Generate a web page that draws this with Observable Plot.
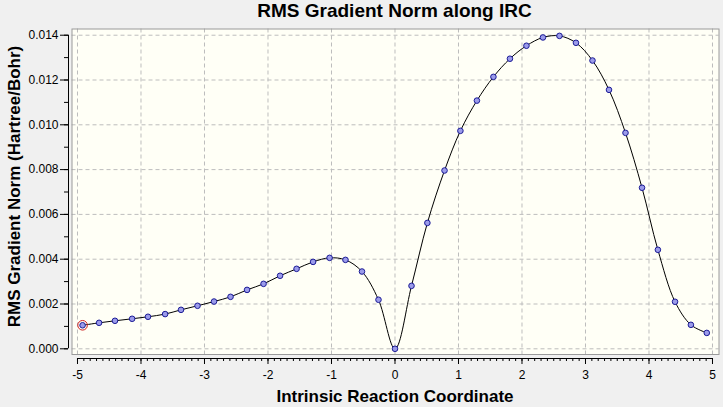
<!DOCTYPE html>
<html>
<head>
<meta charset="utf-8">
<script src="https://cdn.jsdelivr.net/npm/d3@7"></script>
<script src="https://cdn.jsdelivr.net/npm/@observablehq/plot@0.6"></script>
<style>
  html, body { margin: 0; padding: 0; background: #f0f0f0; }
  body { width: 723px; height: 407px; overflow: hidden; font-family: "Liberation Sans", Arial, sans-serif; }
  #title { height: 26px; line-height: 21px; margin-left: 66px; width: 657px; text-align: center;
           font-weight: bold; font-size: 19px; color: #000; white-space: nowrap; }
  svg { display: block; }
</style>
</head>
<body>
<div id="title">RMS Gradient Norm along IRC</div>
<div id="chart"></div>
<script>
// ---- data ----
const irc = [
  -4.92, -4.66, -4.41, -4.14, -3.89, -3.62, -3.37, -3.11, -2.85, -2.59,
  -2.33, -2.07, -1.81, -1.55, -1.29, -1.03, -0.78, -0.52, -0.26, 0.00,
   0.26,  0.51,  0.78,  1.03,  1.29,  1.55,  1.81,  2.07,  2.33,  2.59,
   2.85,  3.11,  3.37,  3.63,  3.89,  4.14,  4.41,  4.66,  4.91
];
const rmsGrad = [
  0.00105, 0.00116, 0.00125, 0.00134, 0.00143, 0.00155, 0.00174, 0.00192, 0.00211, 0.00232,
  0.00263, 0.00290, 0.00326, 0.00357, 0.00388, 0.00406, 0.00397, 0.00345, 0.00219, 0.00000,
  0.00281, 0.00562, 0.00796, 0.00973, 0.01108, 0.01214, 0.01295, 0.01353, 0.01390, 0.01397,
  0.01366, 0.01287, 0.01156, 0.00964, 0.00719, 0.00442, 0.00210, 0.00107, 0.00071
];
const xTicks = [-5, -4, -3, -2, -1, 0, 1, 2, 3, 4, 5];
const yTicks = [0.000, 0.002, 0.004, 0.006, 0.008, 0.010, 0.012, 0.014];
const xMinorTicks = d3.range(-50, 51).map(i => i / 10);
const yMinorTicks = d3.range(0, 15).map(i => i / 1000);
const highlighted = [0]; // index of the circled point
const titleY = "RMS Gradient Norm (Hartree/Bohr)";
const titleX = "Intrinsic Reaction Coordinate";

// scale extents (plot area includes space for the offset axes)
const xDomain = [-5.1417, 5.1024];
const yDomain = [-0.000433, 0.014277];

const data = irc.map((x, i) => ({x, y: rmsGrad[i]}));
const hi = highlighted.map(i => data[i]);

const grid = {stroke: "#bdbdbd", strokeDasharray: "4,3", strokeWidth: 1};

const chart = Plot.plot({
  width: 723,
  height: 381,
  marginTop: 2.5,
  marginBottom: 49,
  marginLeft: 68,
  marginRight: 4.5,
  style: {fontFamily: "'Liberation Sans', Arial, sans-serif", fontSize: "12px", background: "transparent", color: "#000"},
  x: {domain: xDomain},
  y: {domain: yDomain},
  marks: [
    Plot.frame({fill: "#fffff6", stroke: null, insetLeft: 3.5, insetBottom: 4}),
    Plot.ruleX(xTicks, {...grid, insetBottom: 4}),
    Plot.ruleY(yTicks, {...grid, insetLeft: 3.5}),
    Plot.frame({fill: "none", stroke: "#9a9a9a", insetLeft: 3.5, insetBottom: 4}),
    // axes
    Plot.ruleY([yDomain[0]], {x1: xTicks[0], x2: xTicks[xTicks.length - 1], stroke: "#000"}),
    Plot.ruleX([xDomain[0]], {y1: yTicks[0], y2: yTicks[yTicks.length - 1], stroke: "#000"}),
    Plot.axisX({anchor: "bottom", ticks: xMinorTicks, tickSize: 3, text: null, label: null, stroke: "#000"}),
    Plot.axisX({anchor: "bottom", ticks: xTicks, tickSize: 6, tickPadding: 6, tickFormat: d => String(d), label: null, fontSize: 12, fill: "#000"}),
    Plot.axisY({anchor: "left", ticks: yMinorTicks, tickSize: 4, text: null, label: null, stroke: "#000"}),
    Plot.axisY({anchor: "left", ticks: yTicks, tickSize: 8, tickPadding: 2, tickFormat: d3.format(".3f"), label: null, fontSize: 12, fill: "#000"}),
    // axis titles
    Plot.text([titleX], {frameAnchor: "bottom", textAnchor: "middle", lineAnchor: "middle", dx: 1.25, dy: 38.3, text: d => d, fontSize: 17, fontWeight: "bold", fill: "#000"}),
    Plot.text([titleY], {frameAnchor: "left", textAnchor: "middle", lineAnchor: "middle", dx: -54.3, dy: -7.25, rotate: -90, text: d => d, fontSize: 17, fontWeight: "bold", fill: "#000"}),
    // data
    Plot.line(data, {x: "x", y: "y", curve: "catmull-rom", stroke: "#000", strokeWidth: 1}),
    Plot.dot(data, {x: "x", y: "y", r: 2.8, fill: "#9b9bea", stroke: "#1c1c96", strokeWidth: 1}),
    Plot.dot(hi, {x: "x", y: "y", r: 4.8, fill: "none", stroke: "#d02020", strokeWidth: 1})
  ]
});
document.getElementById("chart").appendChild(chart);
</script>
</body>
</html>
